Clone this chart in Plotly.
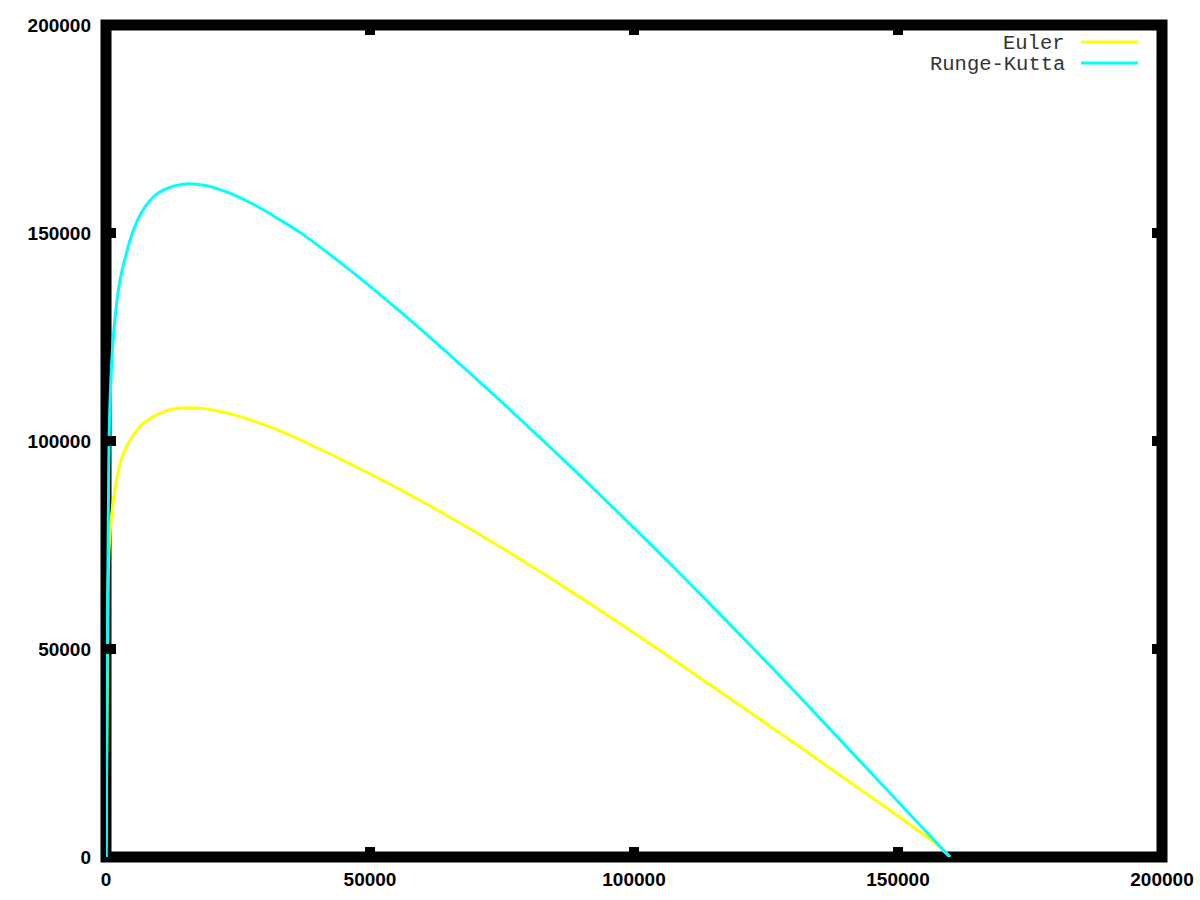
import plotly.graph_objects as go

# Euler curve (x, y)
euler_x = [0, 189, 322, 436, 758, 1383, 1989, 2652, 3920, 5170, 6761, 8333, 10227,
           12121, 15720, 18750, 21591, 24432, 27273, 30436, 33579, 36742, 46212,
           55682, 65152, 74621, 84091, 93561, 103030, 112500, 121970, 131439,
           140909, 150379, 156686, 159848]
euler_y = [0, 32913, 52132, 68228, 77838, 85766, 90570, 94655, 98739, 101381,
           103904, 105393, 106667, 107507, 107988, 107724, 107099, 106210, 105105,
           103688, 102078, 100300, 94534, 88336, 81658, 74570, 67075, 59291, 51243,
           43051, 34763, 26426, 17970, 9489, 3676, 0]

# Runge-Kutta curve (x, y)
rk_x = [0, 189, 379, 511, 758, 1383, 2652, 3920, 5170, 6761, 8333, 9905, 11496,
        12746, 15587, 19072, 21591, 24110, 27273, 30436, 33579, 36742, 46212,
        55682, 65152, 74621, 84091, 93561, 103030, 112500, 121970, 131439,
        140909, 150379, 159848]
rk_y = [0, 37718, 71351, 92973, 109069, 124925, 138618, 145417, 150630, 155027,
        157838, 159591, 160649, 161273, 161850, 161345, 160432, 159231, 157333,
        155123, 152673, 150150, 141069, 131147, 120625, 109742, 98546, 87063,
        75315, 63279, 50979, 38438, 25634, 12781, 0]

tick_vals = [0, 50000, 100000, 150000, 200000]
tick_text = ["0", "50000", "100000", "150000", "200000"]
series_names = ["Euler", "Runge-Kutta"]
series_colors = ["#ffff00", "#00ffff"]

fig = go.Figure()
fig.add_trace(go.Scatter(x=euler_x, y=euler_y, mode="lines", name=series_names[0],
                         line=dict(color=series_colors[0], width=3, shape="spline",
                                   smoothing=0.8),
                         showlegend=False))
fig.add_trace(go.Scatter(x=rk_x, y=rk_y, mode="lines", name=series_names[1],
                         line=dict(color=series_colors[1], width=3, shape="spline",
                                   smoothing=0.8),
                         showlegend=False))

L, R, T, B = 106, 38, 25, 43
W, H = 1200, 900
pw, ph = W - L - R, H - T - B

def px2paper(px, py):
    return (px - L) / pw, (H - B - py) / ph

shapes = [dict(type="rect", xref="paper", yref="paper", x0=0, y0=0, x1=1, y1=1,
               line=dict(color="black", width=11), layer="below")]
annotations = []
legend_rows = [42, 63]
for name, color, py in zip(series_names, series_colors, legend_rows):
    tx, ty = px2paper(1067, py + 1)
    annotations.append(dict(x=tx, y=ty, xref="paper", yref="paper", text=name,
                            showarrow=False, xanchor="right", yanchor="middle",
                            font=dict(family="Liberation Mono", size=20.5, color="#333333")))
    x0, y0 = px2paper(1081, py)
    x1, _ = px2paper(1138, py)
    shapes.append(dict(type="line", xref="paper", yref="paper", x0=x0, x1=x1,
                       y0=y0, y1=y0, line=dict(color=color, width=3)))

axis_common = dict(range=[0, 200000], tickvals=tick_vals, ticktext=tick_text,
                   ticks="inside", ticklen=10, tickwidth=10, tickcolor="black",
                   mirror="ticks", showgrid=False, zeroline=False, showline=False,
                   automargin=False,
                   tickfont=dict(family="Liberation Sans", size=19, color="black",
                                 weight="bold"))

fig.update_layout(
    width=W, height=H,
    margin=dict(l=L, r=R, t=T, b=B, pad=0),
    paper_bgcolor="white",
    plot_bgcolor="rgba(0,0,0,0)",
    xaxis=dict(**axis_common, ticklabelstandoff=9),
    yaxis=dict(**axis_common, ticklabelstandoff=14),
    shapes=shapes,
    annotations=annotations,
    showlegend=False,
)

fig.write_html("out.html",
               config={"displayModeBar": False},
               post_script="document.body.style.margin='0';"
                           "document.body.style.overflow='hidden';")
